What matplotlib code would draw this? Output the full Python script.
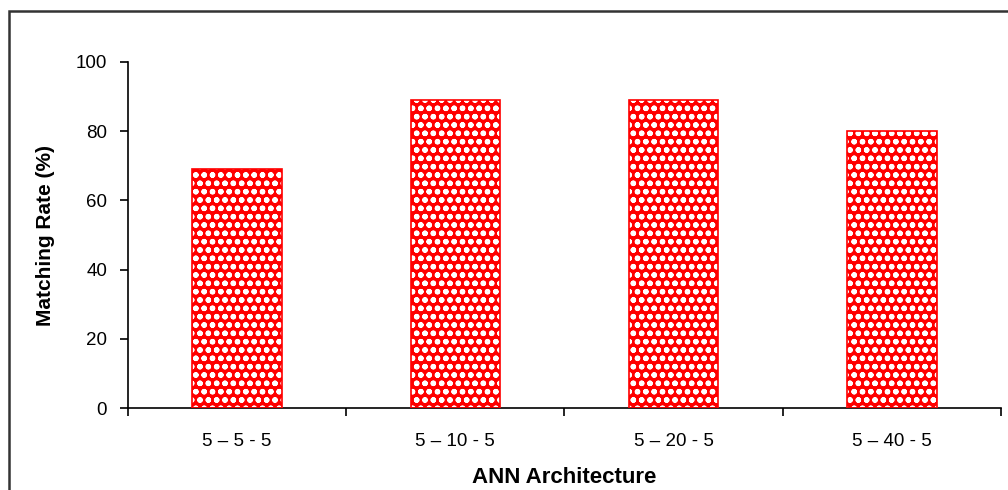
import matplotlib
matplotlib.use("Agg")
import matplotlib.pyplot as plt
from matplotlib.patches import Rectangle

plt.rcParams['font.family'] = ['Liberation Sans', 'DejaVu Sans']
plt.rcParams['hatch.linewidth'] = 1.6

architectures = ["5 \u2013 5 - 5", "5 \u2013 10 - 5", "5 \u2013 20 - 5", "5 \u2013 40 - 5"]
matching_rate = [69, 89, 89, 80]
y_ticks = [0, 20, 40, 60, 80, 100]

fig = plt.figure(figsize=(10.08, 4.90), dpi=100)
ax = fig.add_axes([0.127, 0.1673, 0.866, 0.7062])

centers = [i + 0.5 for i in range(len(architectures))]
# Red bars with a white circle pattern, then a red outline on top
ax.bar(centers, matching_rate, width=0.41, color='#ff0000', edgecolor='white',
       hatch='oo', linewidth=0, zorder=2)
ax.bar(centers, matching_rate, width=0.41, facecolor='none', edgecolor='#ff0000',
       linewidth=1.2, zorder=3)

ax.set_xlim(0, len(architectures))
ax.set_ylim(0, 100)
ax.set_yticks(y_ticks)
ax.set_xticks(range(len(architectures) + 1))
ax.set_xticklabels([])
ax.set_xticks(centers, minor=True)
ax.set_xticklabels(architectures, minor=True)
ax.tick_params(axis='x', which='minor', length=0, pad=18, labelsize=13.5)
ax.tick_params(axis='x', which='major', direction='out', length=6, width=1.2)
ax.tick_params(axis='y', direction='out', length=6, width=1.2, labelsize=13.5, pad=9)

for side in ('top', 'right'):
    ax.spines[side].set_visible(False)
for side in ('left', 'bottom'):
    ax.spines[side].set_linewidth(1.2)

ax.set_xlabel("ANN Architecture", fontsize=16, fontweight='bold', labelpad=12)
ax.set_ylabel("Matching Rate (%)", fontsize=15, fontweight='bold', labelpad=15)

# Outer frame around the figure region
fig.patches.append(Rectangle((9 / 1008, -0.1), 1.2, 1 - 11 / 490 + 0.1,
                             transform=fig.transFigure, fill=False,
                             edgecolor='#333333', linewidth=1.8, zorder=0))

fig.savefig("out.png", dpi=100)
